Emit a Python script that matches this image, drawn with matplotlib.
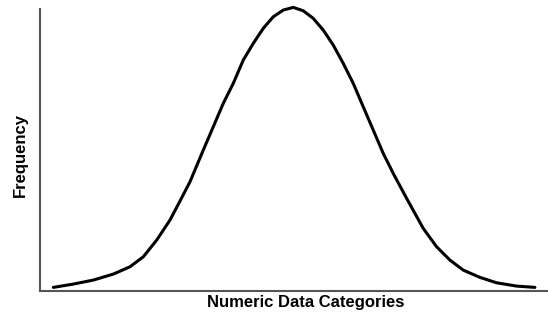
import matplotlib
matplotlib.use("Agg")
import matplotlib.pyplot as plt

# values (x = category position, y = frequency)
categories = [13.3, 33.3, 53.3, 73.3, 90, 103.3, 116.7, 130, 140, 150,
              163.3, 173.3, 183.3, 193.3, 203.3, 213.3, 223.3, 233.3, 243.3, 253.3,
              263.3, 273.3, 283.3, 293.3, 303.3, 313.3, 323.3, 333.3, 343.3, 353.3,
              366.7, 383.3, 396.7, 410, 423.3, 440, 456.7, 476.7, 495]
frequency = [3.7, 7, 11, 17, 24.3, 34.3, 51, 71, 90, 109.3,
             141, 164.3, 187.7, 207.7, 231, 247.7, 262.7, 274.3, 281, 283.7,
             280.3, 272.7, 261, 246, 227.7, 207.7, 184.3, 161, 137.7, 117.7,
             92.7, 62.7, 44.3, 31, 21, 13.7, 8.3, 5, 3.7]

plt.rcParams["font.family"] = ["Liberation Sans", "DejaVu Sans"]

fig = plt.figure(figsize=(5.48, 3.13), dpi=100)
ax = fig.add_axes([0.073, 0.070, 0.925, 0.901])
ax.plot(categories, frequency, color="black", linewidth=2.2, clip_on=False,
        solid_capstyle="round", solid_joinstyle="round")
ax.set_xlim(0, 507)
ax.set_ylim(0, 282)
ax.set_xticks([])
ax.set_yticks([])
for side in ["top", "right"]:
    ax.spines[side].set_visible(False)
for side in ["left", "bottom"]:
    ax.spines[side].set_color("#555555")
    ax.spines[side].set_linewidth(1.5)

fig.text(0.557, 0.032, "Numeric Data Categories", ha="center", va="center",
         fontsize=12, fontweight="bold")
fig.text(0.038, 0.505, "Frequency", ha="center", va="center", rotation=90,
         fontsize=12, fontweight="bold")

fig.savefig("out.png", dpi=100)
